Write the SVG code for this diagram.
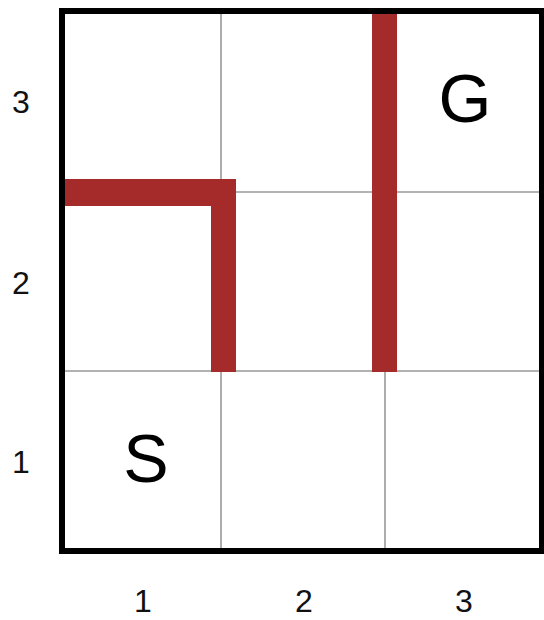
<svg xmlns="http://www.w3.org/2000/svg" width="544" height="620" viewBox="0 0 544 620">
<style>
.grid{stroke:#999;stroke-width:1.6;fill:none}
.border{stroke:#000;stroke-width:6;fill:none}
.wall{fill:#a52a2a}
.cell{font-family:"Liberation Sans",Arial,sans-serif;font-size:68px;fill:#000;text-anchor:middle}
.axis{font-family:"Liberation Sans",Arial,sans-serif;font-size:32px;fill:#111;text-anchor:middle}
</style>
<rect width="544" height="620" fill="#fff"/>
<g id="grid">
<line class="grid" x1="221" y1="11" x2="221" y2="551"/>
<line class="grid" x1="385" y1="11" x2="385" y2="551"/>
<line class="grid" x1="62" y1="192" x2="542" y2="192"/>
<line class="grid" x1="62" y1="371" x2="542" y2="371"/>
</g>
<g id="walls">
<rect class="wall" x="62" y="179" width="174" height="27"/>
<rect class="wall" x="211" y="179" width="25" height="193"/>
<rect class="wall" x="372" y="10" width="25" height="362"/>
</g>
<rect id="border" class="border" x="62" y="11" width="480" height="540"/>
<g id="start"><text class="cell" x="146" y="482">S</text></g>
<g id="goal"><text class="cell" x="465" y="122">G</text></g>
<g id="axes">
<text class="axis" x="21" y="113">3</text>
<text class="axis" x="21" y="294">2</text>
<text class="axis" x="21" y="473">1</text>
<text class="axis" x="143" y="612">1</text>
<text class="axis" x="304" y="612">2</text>
<text class="axis" x="464" y="612">3</text>
</g>
</svg>
